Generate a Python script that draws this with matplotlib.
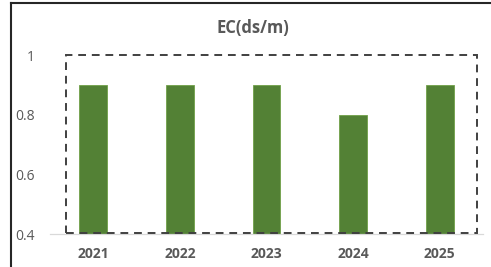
import matplotlib
matplotlib.use("Agg")
import matplotlib.pyplot as plt
from matplotlib.patches import Rectangle
from matplotlib.lines import Line2D

years = ["2021", "2022", "2023", "2024", "2025"]
ec_values = [0.9, 0.9, 0.9, 0.8, 0.9]
y_ticks = [0.4, 0.6, 0.8, 1.0]
y_tick_labels = ["0.4", "0.6", "0.8", "1"]

plt.rcParams['font.family'] = ['Open Sans', 'DejaVu Sans']

fig = plt.figure(figsize=(4.91, 2.67), dpi=100)
ax = fig.add_axes([50 / 491, 1 - 234 / 267, 433 / 491, (234 - 55) / 267])

x = list(range(len(years)))
ax.bar(x, ec_values, width=0.32, bottom=0, color="#538135",
       edgecolor="#70a048", linewidth=0.6, zorder=2)

ax.set_xlim(-0.5, len(years) - 0.5)
ax.set_ylim(0.4, 1.0)
ax.set_yticks(y_ticks)
ax.set_yticklabels(y_tick_labels)
ax.set_xticks(x)
ax.set_xticklabels(years, fontweight="bold")
ax.tick_params(axis="both", length=0, colors="#595959", labelsize=10)
ax.tick_params(axis="x", pad=9)
ax.tick_params(axis="y", pad=11)

for side in ["top", "right", "left"]:
    ax.spines[side].set_visible(False)
ax.spines["bottom"].set_color("#d9d9d9")
ax.spines["bottom"].set_linewidth(0.9)

# dashed frame around the bars
frame = Rectangle((-0.315, 0.405), 4.74, 0.595, fill=False,
                  edgecolor="#404040", linestyle=(0, (4, 3)), linewidth=1.4,
                  zorder=3, clip_on=False)
ax.add_patch(frame)

fig.text(253 / 491, 1 - 28 / 267, "EC(ds/m)", ha="center", va="center",
         fontsize=12, fontweight="bold", color="#595959")

# outer border (left and top visible)
fig.add_artist(Line2D([10.5 / 491, 10.5 / 491], [0, 1 - 3 / 267],
                      transform=fig.transFigure, color="#262626", linewidth=1.5))
fig.add_artist(Line2D([10.5 / 491, 1], [1 - 3 / 267, 1 - 3 / 267],
                      transform=fig.transFigure, color="#262626", linewidth=1.5))

fig.savefig("out.png", dpi=100)
